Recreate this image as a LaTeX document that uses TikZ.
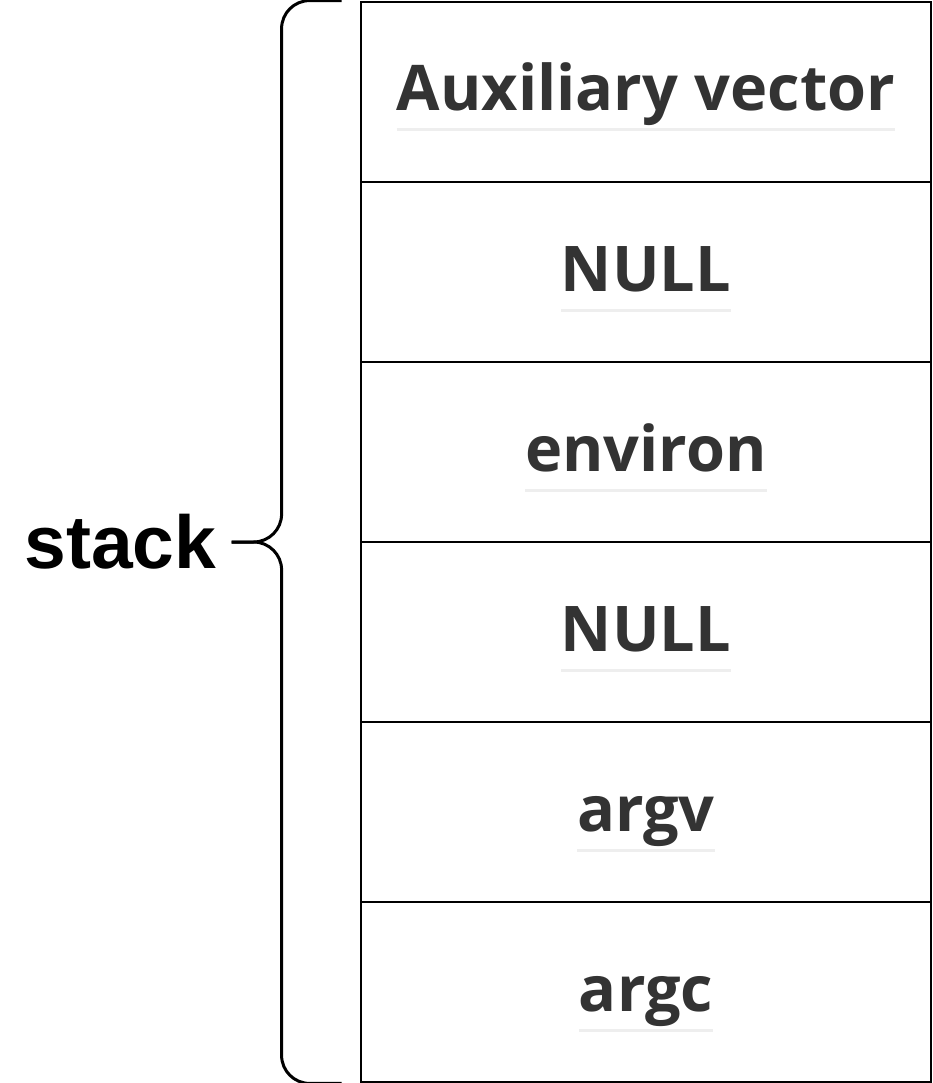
\documentclass[tikz,border=0pt]{standalone}
\usepackage{fontspec}
\setmainfont{Open Sans}
\newfontfamily\stackfont{Liberation Sans}
\usepackage{tikz}
\usetikzlibrary{calc}
\usetikzlibrary{positioning}
\definecolor{celltext}{HTML}{333333}
\definecolor{ulgray}{HTML}{EEEEEE}

\begin{document}
\begin{tikzpicture}[x=1pt,y=1pt,node distance=180pt,on grid,
		cell/.style={rectangle,draw=black,line width=2.8pt,minimum width=570pt,minimum height=180pt,inner sep=0pt},
		lbl/.style={anchor=base,inner sep=0pt,text=celltext,font=\fontsize{63}{70}\selectfont\bfseries},
		ulbar/.style={draw=ulgray,line width=3pt},
		bracel/.style={draw=black,line width=3pt,rounded corners=28pt}]
		\useasboundingbox (0,0) rectangle (933,-1083);
		\node[cell] (aux) at (646,-92) {};
		\node[cell] (null1) [below=of aux] {};
		\node[cell] (environ) [below=of null1] {};
		\node[cell] (null2) [below=of environ] {};
		\node[cell] (argv) [below=of null2] {};
		\node[cell] (argc) [below=of argv] {};

		% cell labels with grey rule under them
		\node[lbl] (auxt) at ([yshift=-19pt]aux.center) {Auxiliary vector};
		\node[lbl] (null1t) at ([yshift=-19pt]null1.center) {NULL};
		\node[lbl] (environt) at ([yshift=-19pt]environ.center) {environ};
		\node[lbl] (null2t) at ([yshift=-19pt]null2.center) {NULL};
		\node[lbl] (argvt) at ([yshift=-19pt]argv.center) {argv};
		\node[lbl] (argct) at ([yshift=-19pt]argc.center) {argc};
		\path[ulbar]
		([yshift=-19pt]auxt.base west) edge ([yshift=-19pt]auxt.base east)
		([yshift=-19pt]null1t.base west) edge ([yshift=-19pt]null1t.base east)
		([yshift=-19pt]environt.base west) edge ([yshift=-19pt]environt.base east)
		([yshift=-19pt]null2t.base west) edge ([yshift=-19pt]null2t.base east)
		([yshift=-19pt]argvt.base west) edge ([yshift=-19pt]argvt.base east)
		([yshift=-19pt]argct.base west) edge ([yshift=-19pt]argct.base east);

		% brace
		\coordinate (btop) at ([xshift=-18pt]aux.north west);
		\coordinate (bbot) at ([xshift=-18pt]argc.south west);
		\coordinate (bmid) at ($(aux.north west)!0.5!(argc.south west)+(-78,0)$);
		\coordinate (btip) at ($(bmid)+(-50,0)$);
		\draw[bracel] (btop) -- (btop -| bmid) -- (bmid) -- (btip);
		\draw[bracel] (btip) -- (bmid) -- (bbot -| bmid) -- (bbot);
		\node[anchor=east,inner sep=0pt,font=\stackfont\fontsize{75}{80}\selectfont\bfseries] (stack) at ([xshift=-15pt]btip) {stack};
\end{tikzpicture}
\end{document}
